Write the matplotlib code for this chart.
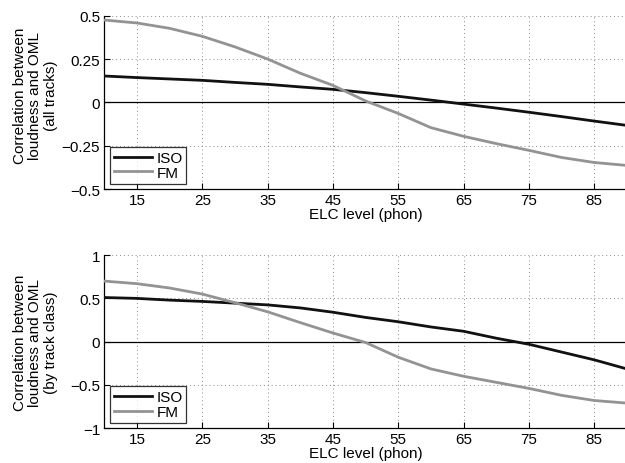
import matplotlib
matplotlib.use("Agg")
import matplotlib.pyplot as plt

plt.rcParams['font.family'] = ['Liberation Sans', 'DejaVu Sans']
plt.rcParams['font.size'] = 11

elc_levels = [10, 15, 20, 25, 30, 35, 40, 45, 50, 55, 60, 65, 70, 75, 80, 85, 90]

iso_all = [0.152, 0.143, 0.135, 0.127, 0.115, 0.104, 0.089, 0.075, 0.056, 0.035, 0.013,
           -0.010, -0.033, -0.057, -0.082, -0.108, -0.133]
fm_all = [0.475, 0.458, 0.427, 0.381, 0.320, 0.250, 0.168, 0.098, 0.008, -0.064, -0.146,
          -0.196, -0.238, -0.277, -0.318, -0.347, -0.364]

iso_class = [0.51, 0.50, 0.48, 0.465, 0.445, 0.425, 0.39, 0.34, 0.28, 0.23, 0.17,
             0.12, 0.04, -0.03, -0.12, -0.21, -0.315]
fm_class = [0.70, 0.67, 0.62, 0.55, 0.45, 0.345, 0.22, 0.10, -0.01, -0.18, -0.315,
            -0.40, -0.47, -0.54, -0.62, -0.68, -0.71]

x_ticks = [15, 25, 35, 45, 55, 65, 75, 85]
top_yticks = [-0.5, -0.25, 0, 0.25, 0.5]
top_yticklabels = ['\u22120.5', '\u22120.25', '0', '0.25', '0.5']
bot_yticks = [-1, -0.5, 0, 0.5, 1]
bot_yticklabels = ['\u22121', '\u22120.5', '0', '0.5', '1']

panels = [
    dict(iso=iso_all, fm=fm_all, yticks=top_yticks, ylabels=top_yticklabels,
         ylim=(-0.5, 0.5), ylabel='Correlation between\nloudness and OML\n(all tracks)',
         label_y=0.545),
    dict(iso=iso_class, fm=fm_class, yticks=bot_yticks, ylabels=bot_yticklabels,
         ylim=(-1, 1), ylabel='Correlation between\nloudness and OML\n(by track class)',
         label_y=0.5),
]

fig = plt.figure(figsize=(6.25, 4.64), dpi=100)
rects = [[0.167, 0.5905, 0.836, 0.3735], [0.167, 0.075, 0.836, 0.373]]

for rect, p in zip(rects, panels):
    ax = fig.add_axes(rect)
    ax.axhline(0, color='black', lw=0.9, zorder=2)
    ax.plot(elc_levels, p['iso'], color='#111111', lw=2.0, label='ISO', zorder=3)
    ax.plot(elc_levels, p['fm'], color='#939393', lw=2.0, label='FM', zorder=3)
    ax.set_xlim(10, 90)
    ax.set_ylim(*p['ylim'])
    ax.set_xticks(x_ticks)
    ax.set_yticks(p['yticks'])
    ax.set_yticklabels(p['ylabels'])
    ax.grid(True, linestyle=(0, (1, 3)), color='#8a8a8a', lw=0.7)
    ax.tick_params(direction='in', length=4, width=0.8, pad=3, labelsize=11)
    for s in ('top', 'right'):
        ax.spines[s].set_visible(False)
    for s in ('left', 'bottom'):
        ax.spines[s].set_linewidth(0.9)
    ax.set_xlabel('ELC level (phon)', fontsize=11, labelpad=0)
    ax.set_ylabel(p['ylabel'], fontsize=11, linespacing=1.15)
    ax.yaxis.set_label_coords(-0.089, p['label_y'])
    leg = ax.legend(loc='lower left', frameon=True, fancybox=False, handlelength=2.5,
                    handletextpad=0.3, borderpad=0.25, labelspacing=0.05,
                    borderaxespad=0.35, fontsize=11)
    leg.get_frame().set_edgecolor('black')
    leg.get_frame().set_linewidth(0.9)

fig.savefig('out.png', dpi=100)
